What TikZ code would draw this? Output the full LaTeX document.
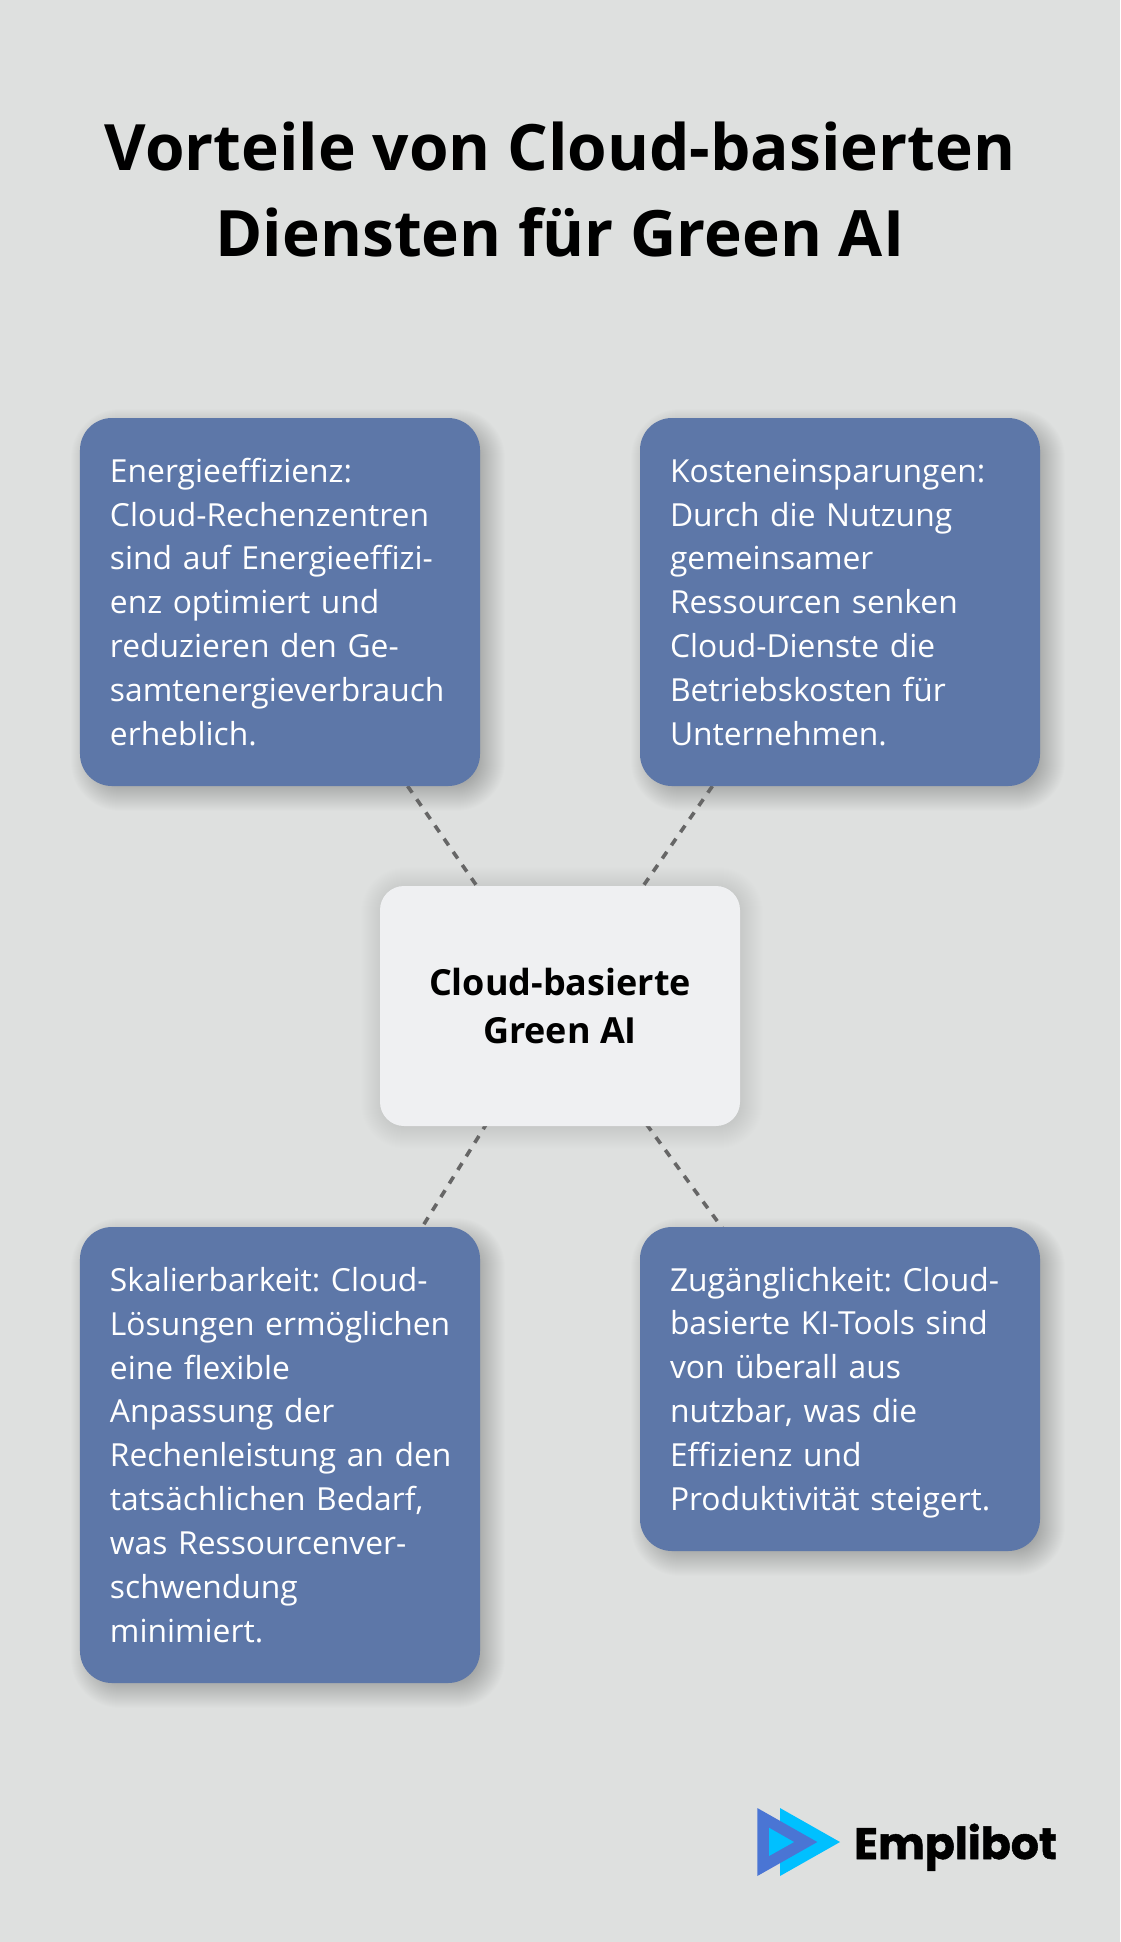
\documentclass[tikz,border=0pt]{standalone}
\usepackage{fontspec}
\setmainfont{Open Sans}
\newfontfamily\logofont{Poppins}[BoldFeatures={FakeBold=1.2}]
\hyphenpenalty=10000
\frenchspacing
\definecolor{bgc}{HTML}{DEE0DF}
\definecolor{bluebox}{HTML}{5D77A8}
\definecolor{centerbox}{HTML}{EFF0F2}
\definecolor{linkc}{HTML}{666666}
\definecolor{logoblue}{HTML}{4A75D4}
\definecolor{logocyan}{HTML}{00C0FF}
\newcommand{\softshadow}[8]{% x1 y1 x2 y2 radius offset spread opacity
  \foreach \i in {1,...,#7}{
    \pgfmathsetmacro{\d}{#7/2-\i}
    \pgfmathsetmacro{\rr}{max(#5+\d,1)}
    \fill[black,opacity=#8,rounded corners=\rr bp]
      ({#1+#6-\d},{#2+#6-\d}) rectangle ({#3+#6+\d},{#4+#6+\d});
  }
}
\newcommand{\boxstrut}{\rule[-10.3bp]{0pt}{44bp}}
\tikzset{
  titletext/.style={font=\fontsize{64.2}{86.5}\selectfont\bfseries,align=center,text=black,inner sep=0pt},
  infobox/.style={fill=bluebox,rounded corners=32bp,text=white,align=left,anchor=center,
    minimum width=400bp,text width=340bp,inner xsep=30bp,inner ysep=0pt,
    font=\fontsize{31.9}{44}\selectfont,
    execute at begin node=\boxstrut,execute at end node=\boxstrut},
  hubbox/.style={fill=centerbox,rounded corners=24bp,text=black,align=center,anchor=center,
    minimum width=360bp,minimum height=240bp,inner sep=0pt,
    font=\fontsize{36.1}{48.2}\selectfont\bfseries},
  linkline/.style={draw=linkc,line width=3.6bp,dash pattern=on 8bp off 8bp},
  logotext/.style={font=\logofont\fontsize{44.3}{44.3}\selectfont\bfseries,text=black,inner sep=0pt,anchor=base west}
}
\begin{document}
\begin{tikzpicture}[x=1bp,y=-1bp]
\useasboundingbox (0,0) rectangle (1120,1942);
\fill[bgc] (0,0) rectangle (1120,1942);

\softshadow{80}{418}{480}{786}{32}{8}{36}{0.0085}
\softshadow{640}{418}{1040}{786}{32}{8}{36}{0.0085}
\softshadow{80}{1227}{480}{1683}{32}{8}{36}{0.0085}
\softshadow{640}{1227}{1040}{1551}{32}{8}{36}{0.0085}
\softshadow{380}{886}{740}{1126}{24}{2}{44}{0.0045}

\coordinate (c1) at (280,602);
\coordinate (c2) at (840,602);
\coordinate (c3) at (280,1455);
\coordinate (c4) at (840,1389);
\coordinate (hubc) at (560,1006);
\draw[linkline] (c1) -- (hubc);
\draw[linkline] (c2) -- (hubc);
\draw[linkline] (c3) -- (hubc);
\draw[linkline] (c4) -- (hubc);

\node[titletext] (title) at (560,189.5) {Vorteile von Cloud-basierten\\Diensten für Green AI};

\node[infobox,minimum height=368bp] (a) at (c1) {Energieeffizienz:\\Cloud-Rechenzentren\\sind auf Energieeffizi-\\enz optimiert und\\reduzieren den Ge-\\\mbox{samtenergieverbrauch}\\erheblich.};
\node[infobox,minimum height=368bp] (b) at (c2) {Kosteneinsparungen:\\Durch die Nutzung\\gemeinsamer\\Ressourcen senken\\Cloud-Dienste die\\Betriebskosten für\\Unternehmen.};
\node[infobox,minimum height=456bp] (c) at (c3) {Skalierbarkeit: Cloud-\\\mbox{Lösungen ermöglichen}\\eine flexible\\Anpassung der\\\mbox{Rechenleistung an den}\\tatsächlichen Bedarf,\\was Ressourcenver-\\schwendung\\minimiert.};
\node[infobox,minimum height=324bp] (d) at (c4) {Zugänglichkeit: Cloud-\\basierte KI-Tools sind\\von überall aus\\nutzbar, was die\\Effizienz und\\Produktivität steigert.};
\node[hubbox] (hub) at (hubc) {Cloud-basierte\\Green AI};

\fill[logocyan] (780,1808) -- (840,1842) -- (780,1876) -- cycle;
\fill[logoblue] (757.3,1808) -- (817.3,1842) -- (757.3,1876) -- cycle;
\fill[logocyan] (769,1827.7) -- (794,1842) -- (769,1856) -- cycle;
\node[logotext] (logo) at (854,1859) {Emplibot};
\end{tikzpicture}
\end{document}
